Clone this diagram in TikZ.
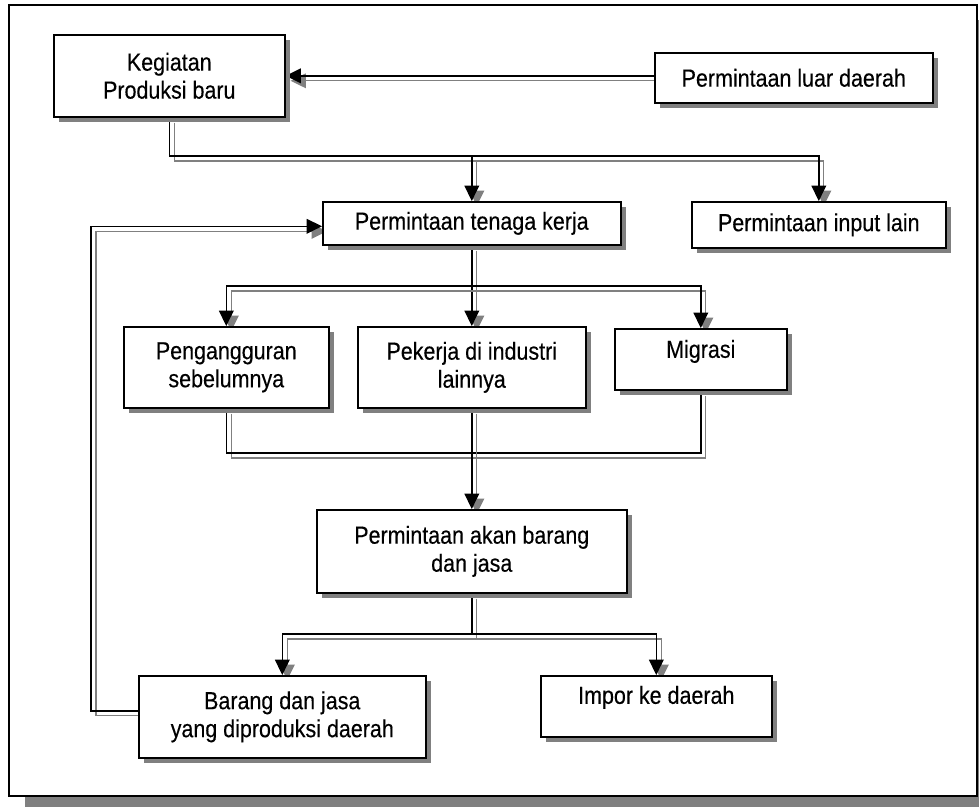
\documentclass[tikz,border=0pt]{standalone}
\usepackage{fontspec}
\setmainfont{Liberation Sans}[FakeStretch=0.87, FakeBold=0.3]
\usepackage{tikz}
\usetikzlibrary{arrows.meta,shadows,backgrounds,calc}

\tikzset{
  box/.style={draw, line width=1.2pt, fill=white, inner sep=0pt, align=center,
    anchor=north west, font=\fontsize{18.5pt}{21pt}\selectfont,
    drop shadow={shadow xshift=4pt, shadow yshift=-4pt, fill=gray, opacity=1}},
  link/.style={line width=1.2pt,
    preaction={draw=gray, line width=1pt, transform canvas={xshift=3.75pt, yshift=-3.75pt}}},
  flow/.style={line width=1.2pt, -{Triangle[length=11.5pt,width=11pt]},
    preaction={draw=gray, line width=1pt, -{Triangle[length=11.5pt,width=11pt]},
      transform canvas={xshift=3.75pt, yshift=-3.75pt}}}
}

\begin{document}
\begin{tikzpicture}[x=0.75pt, y=-0.75pt]
 \useasboundingbox (0,0) rectangle (979,807);

 % Boxes (top left corner given in pixels)
 \node[box, minimum width=173.25pt, minimum height=61.5pt] (keg) at (53,34) {Kegiatan\\Produksi baru};
 \node[box, minimum width=208.5pt, minimum height=37.5pt] (luar) at (654,52) {Permintaan luar daerah};
 \node[box, minimum width=223.5pt, minimum height=32.25pt] (tenaga) at (322,201) {Permintaan tenaga kerja};
 \node[box, minimum width=190.5pt, minimum height=34.5pt] (input) at (691,201) {Permintaan input lain};

 \node[box, minimum width=153.75pt, minimum height=60.75pt] (nganggur) at (123,326) {Pengangguran\\sebelumnya};
 \node[box, minimum width=171pt, minimum height=60.75pt] (pekerja) at (357,326) {Pekerja di industri\\lainnya};
 \node[box, minimum width=129pt, text height=21.75pt, text depth=24pt] (migrasi) at (614,328) {Migrasi};

 \node[box, minimum width=232.5pt, minimum height=62.25pt] (permbarang) at (316,509) {Permintaan akan barang\\dan jasa};

 \node[box, minimum width=215.25pt, minimum height=61.5pt] (produksi) at (138,675) {Barang dan jasa\\yang diproduksi daerah};
 \node[box, minimum width=173.25pt, text height=21pt, text depth=24.75pt] (impor) at (540,675) {Impor ke daerah};

 % Junction lines
 \coordinate (bus1) at (0,156);
 \coordinate (bus2) at (0,286);
 \coordinate (bus3) at (0,453);
 \coordinate (bus4) at (0,634);
 \coordinate (loopx) at (91,0);
 \coordinate (back) at ($(produksi.west)+(0,-6)$);
 \coordinate (into) at ($(tenaga.west)+(0,3)$);

 \begin{scope}[on background layer]
  \fill[gray] (25,20) rectangle (993,812); % frame shadow
  \draw[line width=1.3pt, fill=white] (9,5) rectangle (977,796);

  \draw[flow] (keg.east -| luar.west) -- (keg.east);
  \draw[flow] (keg.south) |- (bus1 -| input.north) -- (input.north);
  \draw[flow] (bus1 -| tenaga.north) -- (tenaga.north);

  \draw[flow] (tenaga.south) -- (pekerja.north);
  \draw[flow] (bus2 -| tenaga.south) -| (nganggur.north);
  \draw[flow] (bus2 -| tenaga.south) -| (migrasi.north);

  \draw[link] (nganggur.south) |- (bus3 -| migrasi.south) -- (migrasi.south);
  \draw[flow] (pekerja.south) -- (permbarang.north);

  \draw[flow] (permbarang.south) |- (bus4 -| produksi.north) -- (produksi.north);
  \draw[flow] (permbarang.south) |- (bus4 -| impor.north) -- (impor.north);

  % back to the labour demand
  \draw[flow] (back) -- (back -| loopx) |- (into);
 \end{scope}
\end{tikzpicture}
\end{document}
